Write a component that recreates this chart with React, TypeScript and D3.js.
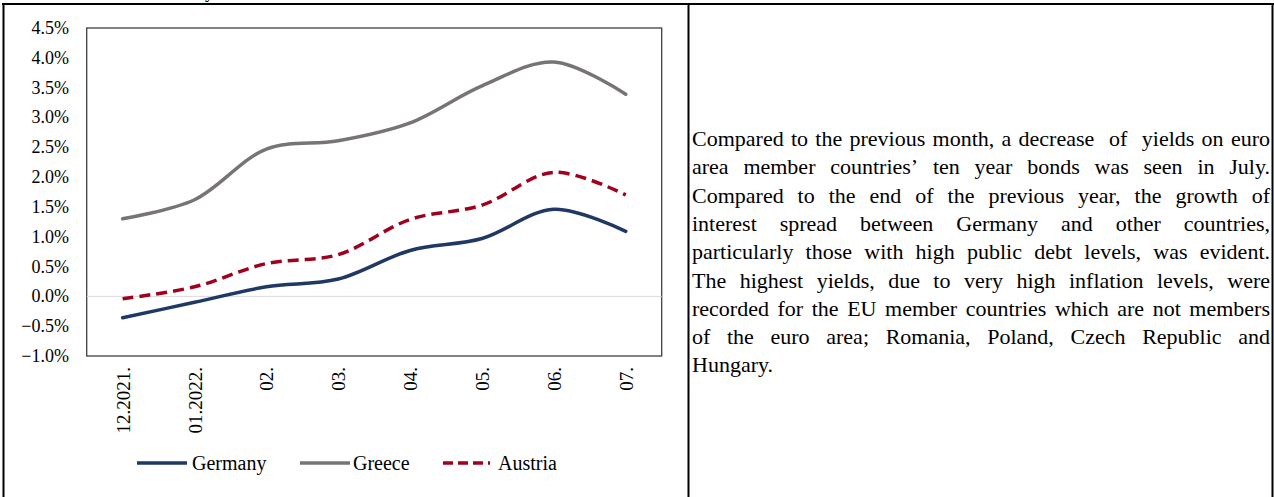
import React, { useMemo } from 'react';
import * as d3 from 'd3';

const categories = ['12.2021.', '01.2022.', '02.', '03.', '04.', '05.', '06.', '07.'];
const germany = [-0.36, -0.1, 0.16, 0.29, 0.77, 0.97, 1.46, 1.09];
const greece = [1.3, 1.62, 2.47, 2.61, 2.91, 3.53, 3.93, 3.39];
const austria = [-0.04, 0.16, 0.55, 0.7, 1.29, 1.53, 2.08, 1.7];
const yTicks = [-1.0, -0.5, 0.0, 0.5, 1.0, 1.5, 2.0, 2.5, 3.0, 3.5, 4.0, 4.5];
const seriesNames = ['Germany', 'Greece', 'Austria'];
const paragraphLines = [
  'Compared to the previous month, a decrease  of  yields on euro',
  'area member countries\u2019 ten year bonds was seen in July.',
  'Compared to the end of the previous year, the growth of',
  'interest spread between Germany and other countries,',
  'particularly those with high public debt levels, was evident.',
  'The highest yields, due to very high inflation levels, were',
  'recorded for the EU member countries which are not members',
  'of the euro area; Romania, Poland, Czech Republic and',
  'Hungary.',
];

const FONT = "'Liberation Serif', 'Times New Roman', serif";
const W = 1274;
const H = 497;
const plot = { left: 86.7, right: 661.7, top: 28, bottom: 356 };
const seriesStyles = [
  { color: '#203864', dash: undefined as string | undefined },
  { color: '#787474', dash: undefined as string | undefined },
  { color: '#A0001E', dash: '11,6' },
];
const legendPos = [
  { x1: 137, x2: 187, tx: 192 },
  { x1: 300, x2: 350, tx: 353 },
  { x1: 443, x2: 490, tx: 498 },
];

const TEXT_FS = 22;
const TEXT_LEFT = 692;
const TEXT_RIGHT = 1270;
const TEXT_TOP_BASELINE = 146;
const TEXT_LH = 28.3;

function layoutParagraph() {
  const canvas = document.createElement('canvas');
  const ctx = canvas.getContext('2d')!;
  ctx.font = `${TEXT_FS}px ${FONT}`;
  const spaceW = ctx.measureText(' ').width;
  const width = TEXT_RIGHT - TEXT_LEFT;
  return paragraphLines.map((line, li) => {
    const justify = li < paragraphLines.length - 1;
    const words = line.split(' ');
    const widths = words.map((w) => (w ? ctx.measureText(w).width : 0));
    const total = d3.sum(widths);
    const gap = justify && words.length > 1 ? (width - total) / (words.length - 1) : spaceW;
    let x = TEXT_LEFT;
    const placed: { w: string; x: number }[] = [];
    words.forEach((w, i) => {
      if (w) placed.push({ w, x });
      x += widths[i] + gap;
    });
    return placed;
  });
}

export default function App() {
  const x = d3
    .scalePoint<string>()
    .domain(categories)
    .range([plot.left, plot.right])
    .padding(0.5);
  const y = d3.scaleLinear().domain([-1, 4.5]).range([plot.bottom, plot.top]);
  const allSeries = [germany, greece, austria];
  const line = d3
    .line<number>()
    .x((_, i) => x(categories[i])!)
    .y((d) => y(d))
    .curve(d3.curveCatmullRom.alpha(0.5));

  const para = useMemo(() => layoutParagraph(), []);

  return (
    <svg
      width={W}
      height={H}
      style={{ position: 'absolute', left: 0, top: 0, background: '#fff' }}
      fontFamily={FONT}
    >
      <rect x={0} y={0} width={W} height={H} fill="#fff" />
      {/* descender of text above the table */}
      <text x={205} y={-2} fontSize={18} fill="#000">y</text>
      {/* table borders */}
      <line x1={2} x2={1274} y1={4} y2={4} stroke="#000" strokeWidth={2} />
      <line x1={3.5} x2={3.5} y1={3} y2={H} stroke="#000" strokeWidth={2} />
      <line x1={688.5} x2={688.5} y1={3} y2={H} stroke="#000" strokeWidth={2} />
      <line x1={1272.5} x2={1272.5} y1={3} y2={H} stroke="#000" strokeWidth={2} />

      {/* plot frame */}
      <rect
        x={plot.left}
        y={plot.top}
        width={plot.right - plot.left}
        height={plot.bottom - plot.top}
        fill="none"
        stroke="#404040"
        strokeWidth={1.3}
      />
      {/* zero line */}
      <line
        x1={plot.left}
        x2={plot.right}
        y1={y(0)}
        y2={y(0)}
        stroke="#d9d9d9"
        strokeWidth={1}
      />
      {/* y ticks */}
      {yTicks.map((t) => (
        <text
          key={t}
          x={69}
          y={y(t)}
          fontSize={18}
          textAnchor="end"
          dominantBaseline="central"
          fill="#000"
        >
          {d3.format('.1f')(t) + '%'}
        </text>
      ))}
      {/* x ticks */}
      {categories.map((c) => (
        <text
          key={c}
          transform={`translate(${x(c)! + 0.5},${367}) rotate(-90)`}
          fontSize={19}
          textAnchor="end"
          dominantBaseline="central"
          fill="#000"
        >
          {c}
        </text>
      ))}
      {/* series */}
      {allSeries.map((s, i) => (
        <path
          key={seriesNames[i]}
          d={line(s) || ''}
          fill="none"
          stroke={seriesStyles[i].color}
          strokeWidth={3.5}
          strokeDasharray={seriesStyles[i].dash}
          strokeLinecap={seriesStyles[i].dash ? 'butt' : 'round'}
          strokeLinejoin="round"
        />
      ))}
      {/* legend */}
      {seriesNames.map((n, i) => (
        <g key={n}>
          <line
            x1={legendPos[i].x1}
            x2={legendPos[i].x2}
            y1={463}
            y2={463}
            stroke={seriesStyles[i].color}
            strokeWidth={3.5}
            strokeDasharray={seriesStyles[i].dash ? '10,5' : undefined}
          />
          <text x={legendPos[i].tx} y={463} fontSize={20} dominantBaseline="central" fill="#000">
            {n}
          </text>
        </g>
      ))}
      {/* paragraph */}
      {para.map((words, li) =>
        words.map((wd, wi) => (
          <text
            key={`${li}-${wi}`}
            x={wd.x}
            y={TEXT_TOP_BASELINE + li * TEXT_LH}
            fontSize={TEXT_FS}
            fill="#000"
          >
            {wd.w}
          </text>
        ))
      )}
    </svg>
  );
}
